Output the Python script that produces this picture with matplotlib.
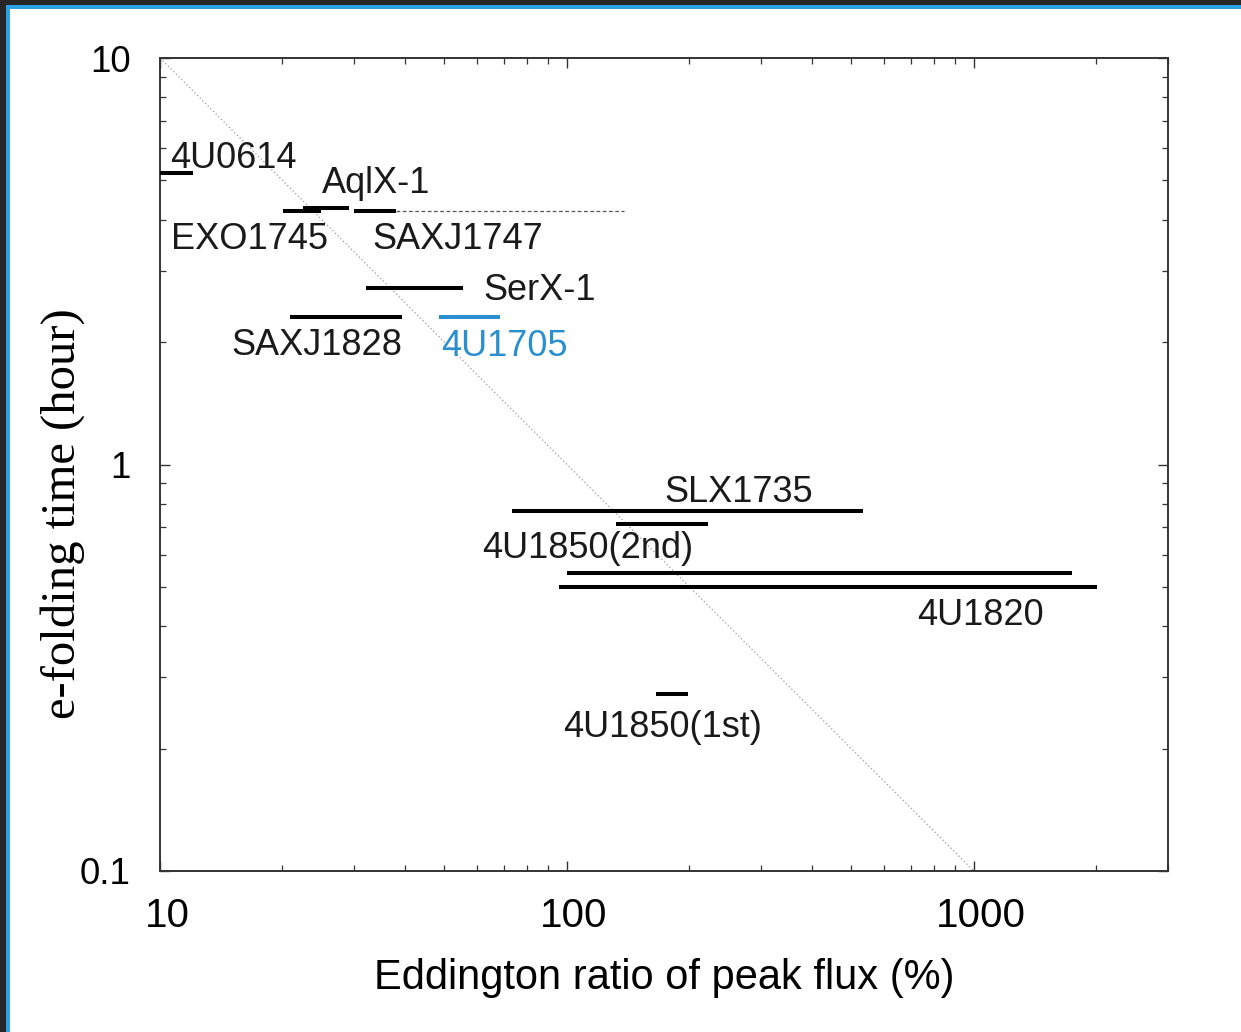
import numpy as np
import matplotlib
matplotlib.use("Agg")
import matplotlib.pyplot as plt
from matplotlib.patches import Rectangle
from matplotlib.transforms import ScaledTranslation

# Burst sources: e-folding time vs Eddington ratio range of peak flux
sources = ["4U0614", "EXO1745", "AqlX-1", "SAXJ1747", "SerX-1", "SAXJ1828",
           "4U1705", "SLX1735", "4U1850(2nd)", "4U1820a", "4U1820b", "4U1850(1st)"]
efold_hour = [5.21, 4.20, 4.28, 4.20, 2.72, 2.31, 2.31, 0.769, 0.715, 0.541, 0.500, 0.272]
ratio_lo = [10.0, 20.1, 22.5, 30.0, 32.1, 20.9, 48.5, 73.4, 132.0, 100.0, 95.7, 166.0]
ratio_hi = [12.06, 24.9, 29.2, 38.0, 55.6, 39.4, 68.6, 533.0, 222.0, 1743.0, 2010.0, 198.0]

# SAXJ1747 upper-limit extension
ext_lo, ext_hi = 38.0, 138.0

# Reference relation: e-folding time = 100 / ratio
ref_x = [10.0, 1000.0]
ref_y = [100.0 / v for v in ref_x]

labels = ["4U0614", "AqlX-1", "EXO1745", "SAXJ1747", "SerX-1", "SAXJ1828",
          "4U1705", "SLX1735", "4U1850(2nd)", "4U1820", "4U1850(1st)"]
label_x = [10.58, 25.03, 10.64, 33.2, 62.3, 14.95, 49.1, 173.8, 61.97, 724.0, 98.0]
label_y = [5.36, 4.65, 3.39, 3.39, 2.54, 1.86, 1.85, 0.808, 0.589, 0.403, 0.214]

highlight = "4U1705"
blue = "#2a8fd0"

xticks = [10, 100, 1000]
xticklabels = ["10", "100", "1000"]
yticks = [0.1, 1, 10]
yticklabels = ["0.1", "1", "10"]

W, H = 1241, 1032
fig = plt.figure(figsize=(W / 100, H / 100), dpi=100)
fig.patch.set_facecolor("white")

# window frame on the left and top
dark = "#262626"
fig.add_artist(Rectangle((0, 0), 6 / W, 1, transform=fig.transFigure, color=dark, lw=0))
fig.add_artist(Rectangle((0, 1 - 5 / H), 1, 5 / H, transform=fig.transFigure, color=dark, lw=0))
fig.add_artist(Rectangle((6 / W, 0), 4 / W, 1 - 5 / H, transform=fig.transFigure, color="#2ba3e3", lw=0))
fig.add_artist(Rectangle((6 / W, 1 - 9 / H), 1 - 6 / W, 4 / H, transform=fig.transFigure, color="#2ba3e3", lw=0))

ax = fig.add_axes([160 / W, 1 - 871 / H, 1008 / W, 813 / H])
ax.set_xscale("log")
ax.set_yscale("log")
ax.set_xlim(10, 3000)
ax.set_ylim(0.1, 10)

ax.plot(ref_x, ref_y, color="#9a9a9a", lw=0.9, ls=(0, (1, 2)), zorder=1)

for name, y, lo, hi in zip(sources, efold_hour, ratio_lo, ratio_hi):
    c = blue if name == highlight else "black"
    ax.plot([lo, hi], [y, y], color=c, lw=2.9, solid_capstyle="butt", zorder=3)
ax.plot([ext_lo, ext_hi], [efold_hour[3], efold_hour[3]], color="#555555",
        lw=0.9, ls=(0, (3, 2)), zorder=2)

for t, x, y in zip(labels, label_x, label_y):
    c = blue if t == highlight else "#1a1a1a"
    ax.text(x, y, t, fontsize=26, color=c, family="Liberation Sans",
            ha="left", va="baseline", zorder=4)

ax.set_xticks(xticks)
ax.set_xticklabels(xticklabels)
ax.set_yticks(yticks)
ax.set_yticklabels(yticklabels)
ax.tick_params(which="major", direction="in", length=7, width=1.0, top=True, right=True,
               color="#333333")
ax.tick_params(which="minor", direction="in", length=4.5, width=0.9, top=True, right=True,
               color="#333333")
ax.tick_params(axis="x", which="major", labelsize=29, pad=19)
ax.tick_params(axis="y", which="major", labelsize=26.5, pad=21)
for lab in ax.get_xticklabels():
    lab.set_family("Liberation Sans")
    lab.set_transform(lab.get_transform() + ScaledTranslation(7 / 100, 0, fig.dpi_scale_trans))
for lab in ax.get_yticklabels():
    lab.set_family("Liberation Sans")
ax.yaxis.set_minor_formatter(matplotlib.ticker.NullFormatter())
ax.xaxis.set_minor_formatter(matplotlib.ticker.NullFormatter())

for s in ax.spines.values():
    s.set_linewidth(1.4)
    s.set_color("#333333")

ax.set_xlabel("Eddington ratio of peak flux (%)", fontsize=30, family="Liberation Sans")
ax.xaxis.set_label_coords(0.5, -0.107)
ax.set_ylabel("e-folding time (hour)", fontsize=35, family="Liberation Serif")
ax.yaxis.label.set_verticalalignment("center")
ax.yaxis.set_label_coords(-0.097, 0.44)

fig.savefig("out.png", dpi=100)
